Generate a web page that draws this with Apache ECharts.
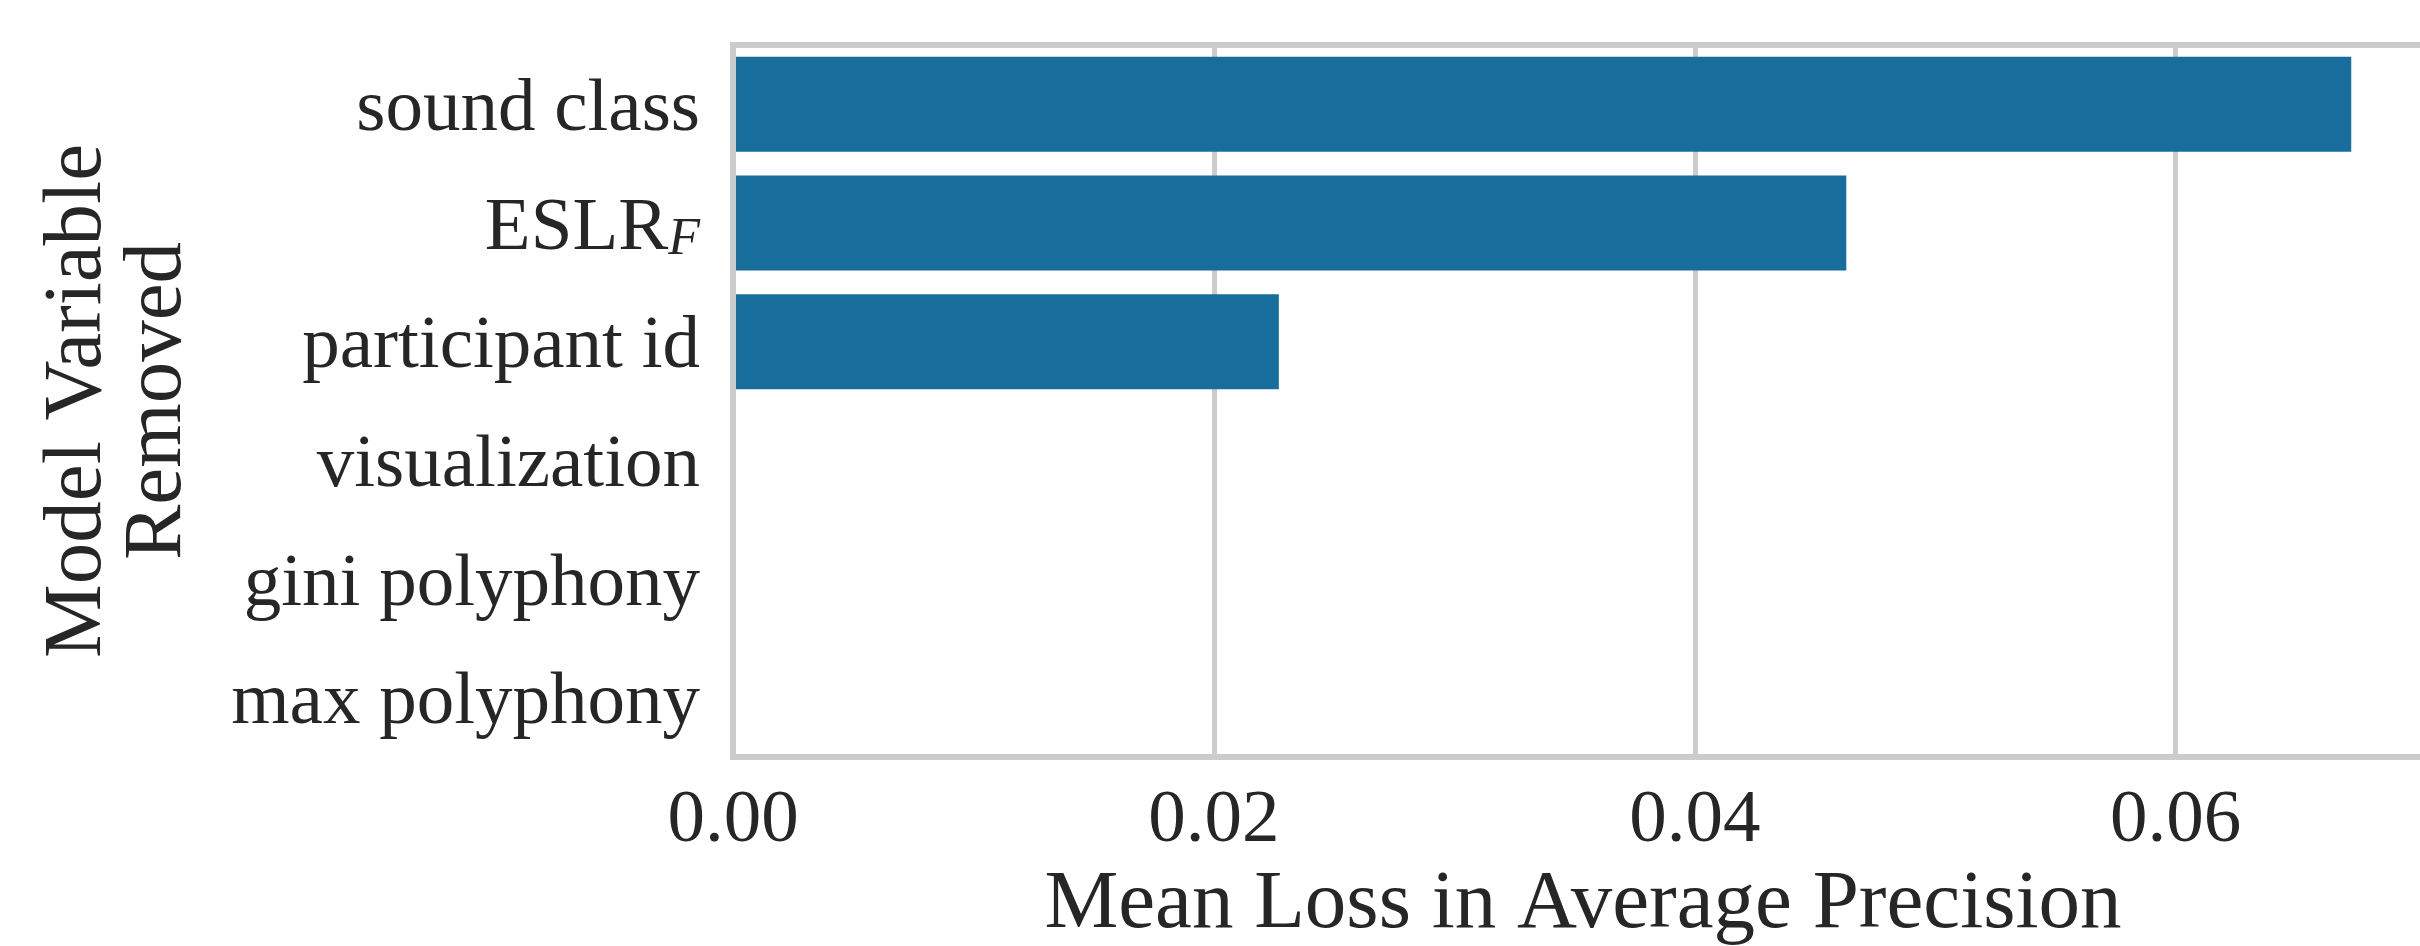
<!DOCTYPE html>
<html>
<head>
<meta charset="utf-8">
<script src="https://cdn.jsdelivr.net/npm/echarts@6/dist/echarts.min.js"></script>
<style>
html,body{margin:0;padding:0;background:#fff;}
#chart{width:2420px;height:946px;}
</style>
</head>
<body>
<div id="chart"></div>
<script>
const categories = ['sound class', 'ESLR_F', 'participant id', 'visualization', 'gini polyphony', 'max polyphony'];
const meanLoss = [0.0673, 0.0463, 0.0227, 0, 0, 0];
const xTicks = { min: 0, max: 0.0707, interval: 0.02 };
const xTitle = 'Mean Loss in Average Precision';
const yTitle = 'Model Variable\nRemoved';

const FONT = '"Liberation Serif", "DejaVu Serif", serif';
const TXT = '#262626';
const GRIDC = '#cccccc';

const chart = echarts.init(document.getElementById('chart'), null, { renderer: 'canvas' });
chart.setOption({
  animation: false,
  backgroundColor: '#ffffff',
  grid: {
    left: 733, top: 45, width: 1700, bottom: 189,
    show: true, borderColor: GRIDC, borderWidth: 6, backgroundColor: 'transparent',
    containLabel: false,
    outerBoundsMode: 'none'
  },
  xAxis: {
    type: 'value',
    min: xTicks.min, max: xTicks.max, interval: xTicks.interval,
    name: xTitle, nameLocation: 'middle', nameGap: 101,
    nameTextStyle: { fontFamily: FONT, fontSize: 83, color: TXT, verticalAlign: 'top' },
    axisLine: { show: true, lineStyle: { color: GRIDC, width: 6 } },
    axisTick: { show: false },
    axisLabel: {
      fontFamily: FONT, fontSize: 75, color: TXT, margin: 27,
      showMaxLabel: false,
      formatter: v => v.toFixed(2)
    },
    splitLine: { show: true, lineStyle: { color: GRIDC, width: 5 } }
  },
  yAxis: {
    type: 'category', inverse: true, data: categories, z: 5,
    name: yTitle, nameLocation: 'middle', nameRotate: 90, nameGap: 535,
    nameTextStyle: { fontFamily: FONT, fontSize: 83, color: TXT, lineHeight: 80, align: 'center' },
    axisLine: { show: true, onZero: false, lineStyle: { color: GRIDC, width: 6 } },
    axisTick: { show: false },
    splitLine: { show: false },
    axisLabel: {
      fontFamily: FONT, fontSize: 75, color: TXT, margin: 33,
      padding: [12, 0, 0, 0],
      formatter: v => {
        if (v === 'ESLR_F') return '{a|ESLR}{sub|F}';
        return v;
      },
      rich: {
        a: { fontFamily: FONT, fontSize: 75, color: TXT, lineHeight: 75 },
        sub: { fontFamily: FONT, fontSize: 52, fontStyle: 'italic', color: TXT, lineHeight: 30, verticalAlign: 'bottom' }
      }
    }
  },
  series: [{
    type: 'bar',
    data: meanLoss,
    barCategoryGap: '20%',
    itemStyle: { color: '#176d9c' }
  }]
});
</script>
</body>
</html>
